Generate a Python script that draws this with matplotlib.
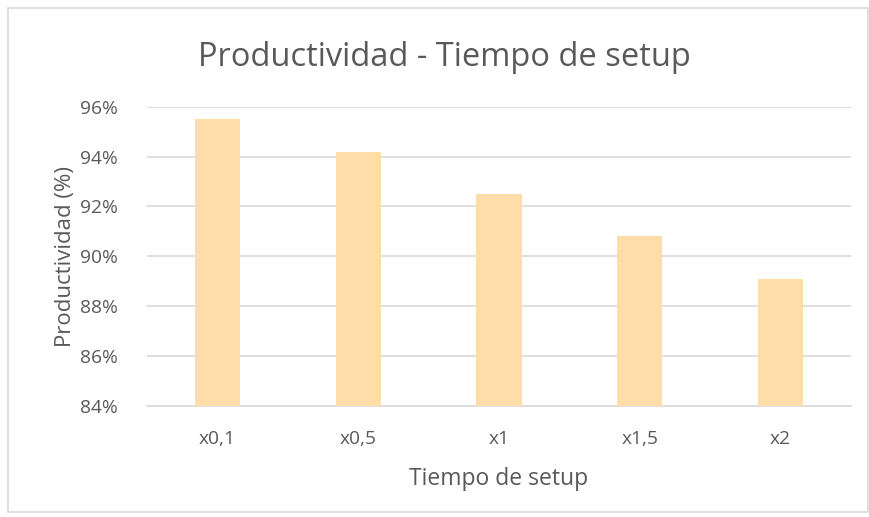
import matplotlib
matplotlib.use("Agg")
import matplotlib.pyplot as plt
from matplotlib.patches import Rectangle
from matplotlib.ticker import FuncFormatter

categories = ["x0,1", "x0,5", "x1", "x1,5", "x2"]
productividad = [95.5, 94.2, 92.5, 90.8, 89.1]

plt.rcParams["font.family"] = ["Open Sans", "DejaVu Sans"]
text_color = "#595959"
grid_color = "#d9d9d9"

fig = plt.figure(figsize=(8.69, 5.17), dpi=100)
W, H = 869, 517
# plot area in pixels: left 147, right 851, top 106.7, bottom 406
ax = fig.add_axes([147 / W, 1 - 406 / H, (851 - 147) / W, (406 - 106.7) / H])

x = range(len(categories))
ax.bar(x, productividad, width=0.32, color="#ffdda8", zorder=3)

ax.set_ylim(84, 96)
ax.set_xlim(-0.5, len(categories) - 0.5)
ax.set_yticks(range(84, 97, 2))
ax.yaxis.set_major_formatter(FuncFormatter(lambda v, p: f"{v:.0f}%"))
ax.set_xticks(list(x))
ax.set_xticklabels(categories)
ax.grid(axis="y", color=grid_color, linewidth=1.2, zorder=0)
for s in ["top", "right", "left"]:
    ax.spines[s].set_visible(False)
ax.spines["bottom"].set_color(grid_color)
ax.spines["bottom"].set_linewidth(1.2)
ax.tick_params(length=0, colors=text_color, labelsize=13.8)
ax.tick_params(axis="y", pad=21)
ax.tick_params(axis="x", pad=17)

fig.text(444 / W, 1 - 57 / H, "Productividad - Tiempo de setup", fontsize=23.5,
         color=text_color, ha="center", va="center")
ax.set_xlabel("Tiempo de setup", fontsize=16.5, color=text_color, labelpad=14)
ax.set_ylabel("Productividad (%)", fontsize=16, color=text_color, labelpad=3)

# light chart border
fig.patches.append(Rectangle((8 / W, 1 - 512 / H), 860 / W, 504 / H,
                             transform=fig.transFigure, fill=False,
                             edgecolor=grid_color, linewidth=1.2))

fig.savefig("out.png", dpi=100)
